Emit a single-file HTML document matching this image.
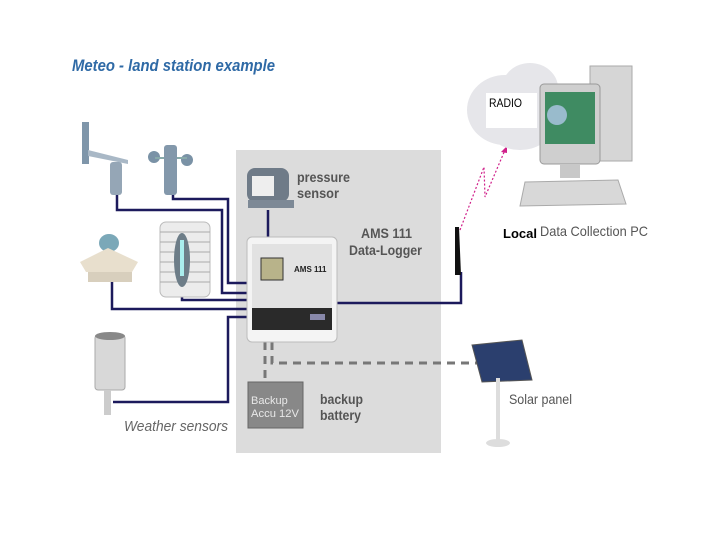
<!DOCTYPE html>
<html><head><meta charset="utf-8"><style>
html,body{margin:0;padding:0;background:#fff;}
svg{display:block;}
</style></head><body>
<svg width="720" height="540" viewBox="0 0 720 540" xmlns="http://www.w3.org/2000/svg" font-family="Liberation Sans, sans-serif">
<rect width="720" height="540" fill="#fff"/>
<text x="72" y="71" font-size="17" font-weight="bold" font-style="italic" fill="#2f6aa6" textLength="203" lengthAdjust="spacingAndGlyphs">Meteo - land station example</text>

<!-- grey box -->
<rect x="236" y="150" width="205" height="303" fill="#dcdcdc"/>

<!-- wires -->
<g fill="none" stroke="#1c1a5c" stroke-width="2.5">
<polyline points="117,195 117,210 222,210 222,293 248,293"/>
<polyline points="173,190 173,199 228,199 228,283 248,283"/>
<polyline points="112,280 112,309 248,309"/>
<polyline points="182,290 182,300 248,300"/>
<polyline points="113,402 228,402 228,317 248,317"/>
<polyline points="268,210 268,240"/>
<polyline points="336,303 461,303 461,272"/>
</g>
<!-- dashed power -->
<g fill="none" stroke="#777" stroke-width="3" stroke-dasharray="8,6">
<polyline points="272,342 272,363 482,363"/>
<polyline points="265,342 265,380"/>
</g>

<!-- wind vane -->
<rect x="82" y="122" width="7" height="42" fill="#7f96aa"/>
<polygon points="88,150 128,160 128,164 88,156" fill="#a9b8c6"/>
<rect x="110" y="162" width="12" height="33" rx="3" fill="#95a6b6"/>
<!-- anemometer -->
<ellipse cx="154" cy="157" rx="6" ry="6" fill="#7a92a6"/>
<ellipse cx="187" cy="160" rx="6" ry="6" fill="#7a92a6"/>
<rect x="155" y="157" width="32" height="2" fill="#8aa"/>
<rect x="164" y="145" width="13" height="50" rx="3" fill="#8398ab"/>
<!-- pyranometer -->
<ellipse cx="109" cy="243" rx="10" ry="9" fill="#7ba8b8"/>
<polygon points="80,262 108,248 138,262 132,272 86,272" fill="#e8dfcd"/>
<rect x="88" y="272" width="44" height="10" fill="#d8cfbd"/>
<!-- screen -->
<rect x="160" y="222" width="50" height="75" rx="6" fill="#ececec" stroke="#bbb"/>
<g stroke="#aaa" stroke-width="1"><line x1="160" y1="232" x2="210" y2="232"/><line x1="160" y1="242" x2="210" y2="242"/><line x1="160" y1="252" x2="210" y2="252"/><line x1="160" y1="262" x2="210" y2="262"/><line x1="160" y1="272" x2="210" y2="272"/><line x1="160" y1="282" x2="210" y2="282"/></g>
<ellipse cx="182" cy="260" rx="8" ry="27" fill="#6d7d88"/>
<rect x="180" y="240" width="4" height="36" fill="#aee"/>
<!-- rain gauge -->
<rect x="95" y="335" width="30" height="55" rx="3" fill="#d8d8d8" stroke="#aaa"/>
<ellipse cx="110" cy="336" rx="15" ry="4" fill="#888"/>
<rect x="104" y="390" width="7" height="25" fill="#ccc"/>

<!-- pressure sensor -->
<rect x="247" y="168" width="42" height="34" rx="8" fill="#6f7b88"/>
<rect x="252" y="176" width="22" height="20" fill="#eee"/>
<rect x="248" y="200" width="46" height="8" fill="#7d8996"/>
<text x="297" y="182" font-size="14" font-weight="bold" fill="#555" textLength="53" lengthAdjust="spacingAndGlyphs">pressure</text>
<text x="297" y="198" font-size="14" font-weight="bold" fill="#555" textLength="42" lengthAdjust="spacingAndGlyphs">sensor</text>

<!-- logger -->
<rect x="247" y="237" width="90" height="105" rx="5" fill="#f4f4f4" stroke="#bbb"/>
<rect x="252" y="244" width="80" height="64" fill="#e2e2e2"/>
<rect x="261" y="258" width="22" height="22" fill="#b8b38a" stroke="#333"/>
<text x="294" y="272" font-size="8" font-weight="bold" fill="#222">AMS 111</text>
<rect x="252" y="308" width="80" height="22" fill="#2a2a2a"/>
<rect x="310" y="314" width="15" height="6" fill="#88a"/>
<text x="361" y="238" font-size="14" font-weight="bold" fill="#555" textLength="51" lengthAdjust="spacingAndGlyphs">AMS 111</text>
<text x="349" y="255" font-size="14" font-weight="bold" fill="#555" textLength="73" lengthAdjust="spacingAndGlyphs">Data-Logger</text>

<!-- battery -->
<rect x="248" y="382" width="55" height="46" fill="#888" stroke="#666"/>
<text x="251" y="404" font-size="11" fill="#e8e8e8">Backup</text>
<text x="251" y="417" font-size="11" fill="#e8e8e8" textLength="48" lengthAdjust="spacingAndGlyphs">Accu 12V</text>
<text x="320" y="404" font-size="14" font-weight="bold" fill="#555" textLength="43" lengthAdjust="spacingAndGlyphs">backup</text>
<text x="320" y="420" font-size="14" font-weight="bold" fill="#555" textLength="41" lengthAdjust="spacingAndGlyphs">battery</text>

<text x="124" y="431" font-size="15" font-style="italic" fill="#666" textLength="104" lengthAdjust="spacingAndGlyphs">Weather sensors</text>

<!-- antenna -->
<polygon points="455,227 459,227 461,275 455,275" fill="#111"/>
<!-- radio link -->
<polyline points="460,230 484,167 485,197 505,150" fill="none" stroke="#d0208a" stroke-width="1.2" stroke-dasharray="2,2"/>
<polygon points="507,146 501,152 507,153" fill="#d0208a"/>

<!-- cloud -->
<g fill="#e6e6ea">
<ellipse cx="505" cy="110" rx="38" ry="35"/>
<ellipse cx="530" cy="88" rx="28" ry="25"/>
<ellipse cx="520" cy="130" rx="30" ry="20"/>
</g>
<rect x="486" y="93" width="51" height="35" fill="#fff"/>
<text x="489" y="107" font-size="12" fill="#000" textLength="33" lengthAdjust="spacingAndGlyphs">RADIO</text>

<!-- PC -->
<rect x="590" y="66" width="42" height="95" fill="#d6d6d6" stroke="#aaa"/>
<rect x="540" y="84" width="60" height="80" rx="4" fill="#cfcfcf" stroke="#999"/>
<rect x="545" y="92" width="50" height="52" fill="#3f8b62"/>
<circle cx="557" cy="115" r="10" fill="#9bc"/>
<rect x="560" y="164" width="20" height="14" fill="#c8c8c8"/>
<polygon points="525,182 618,180 626,204 520,206" fill="#d8d8d8" stroke="#aaa"/>

<text x="503" y="238" font-size="13" font-weight="bold" fill="#000" textLength="34" lengthAdjust="spacingAndGlyphs">Local</text>
<text x="540" y="236" font-size="14" fill="#555" textLength="108" lengthAdjust="spacingAndGlyphs">Data Collection  PC</text>

<!-- solar panel -->
<polygon points="472,345 522,340 532,380 482,382" fill="#2b3f6e" stroke="#555"/>
<rect x="496" y="378" width="4" height="65" fill="#ddd"/>
<ellipse cx="498" cy="443" rx="12" ry="4" fill="#ddd"/>
<text x="509" y="404" font-size="14" fill="#555" textLength="63" lengthAdjust="spacingAndGlyphs">Solar panel</text>
</svg>
</body></html>
